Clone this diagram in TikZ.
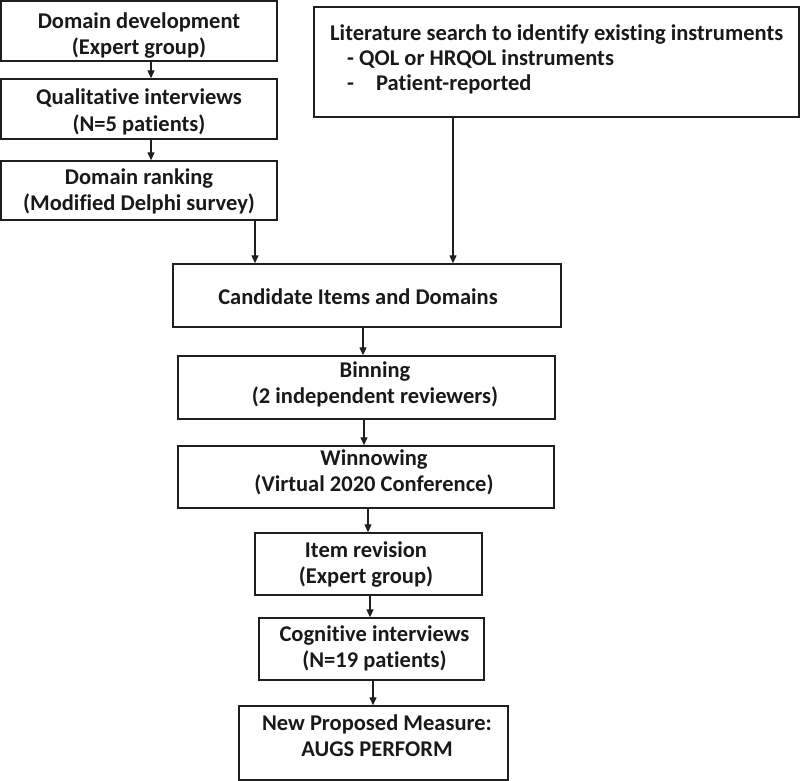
\documentclass[tikz,border=0pt]{standalone}
\usepackage{fontspec}
\setmainfont{Carlito}[Ligatures={NoCommon}]
\usetikzlibrary{arrows.meta}
\tikzset{
  boxnode/.style={draw=black!88, line width=1.4pt, rectangle, inner sep=0pt},
  txt/.style={font=\fontsize{22.5}{26.5}\selectfont\bfseries, text=black!90, align=center, inner sep=0pt},
  conn/.style={draw=black!88, line width=1.3pt, -{Triangle[length=8pt,width=7pt]}}
}
\newcommand{\bx}[5]{\node[boxnode, minimum width={#4-#2}, minimum height={#5-#3}] (#1) at ({(#2+#4)/2},{(#3+#5)/2}) {};}
\begin{document}
\begin{tikzpicture}[x=1pt,y=-1pt]
\useasboundingbox (0,0) rectangle (800,781);
% boxes
\bx{dev}{1}{1}{277}{61}
\bx{qual}{1}{79}{277}{139}
\bx{rank}{1}{161}{277}{220}
\bx{lit}{314}{7}{799}{117}
\bx{cand}{173}{264}{561}{327}
\bx{bin}{178}{356}{555}{419}
\bx{win}{178}{446}{554}{508}
\bx{item}{255}{533}{482}{595}
\bx{cog}{259}{618}{484}{680}
\bx{new}{239}{706}{508}{780}
% texts
\node[txt] (tdev) at (139,35.5) {Domain development\\(Expert group)};
\node[txt] (tqual) at (139,112) {Qualitative interviews\\(N=5 patients)};
\node[txt] (trank) at (139,191.5) {Domain ranking\\(Modified Delphi survey)};
\node[txt, font=\fontsize{22.5}{25}\selectfont\bfseries, align=left, anchor=north west] (tlit) at (330,24.5) {Literature search to identify existing instruments\\\hspace*{17pt}- QOL or HRQOL instruments\\\hspace*{17pt}\makebox[29pt][l]{-}Patient-reported};
\node[txt] (tcand) at (358,297) {Candidate Items and Domains};
\node[txt] (tbin) at (375,384.5) {Binning\\(2 independent reviewers)};
\node[txt] (twin) at (374,472.5) {Winnowing\\(Virtual 2020 Conference)};
\node[txt] (titem) at (366,564.5) {Item revision\\(Expert group)};
\node[txt] (tcog) at (374.5,648.5) {Cognitive interviews\\(N=19 patients)};
\node[txt] (tnew) at (377,735.5) {New Proposed Measure:\\AUGS PERFORM};
% connectors
\draw[conn] (dev.south -| 151,0) -- (qual.north -| 151,0);
\draw[conn] (qual.south -| 151,0) -- (rank.north -| 151,0);
\draw[conn] (rank.south -| 255,0) -- (cand.north -| 255,0);
\draw[conn] (lit.south -| 453,0) -- (cand.north -| 453,0);
\draw[conn] (cand.south -| 363,0) -- (bin.north -| 363,0);
\draw[conn] (bin.south -| 364,0) -- (win.north -| 364,0);
\draw[conn] (win.south -| 368,0) -- (item.north -| 368,0);
\draw[conn] (item.south -| 370,0) -- (cog.north -| 370,0);
\draw[conn] (cog.south -| 373,0) -- (new.north -| 373,0);
\end{tikzpicture}
\end{document}
